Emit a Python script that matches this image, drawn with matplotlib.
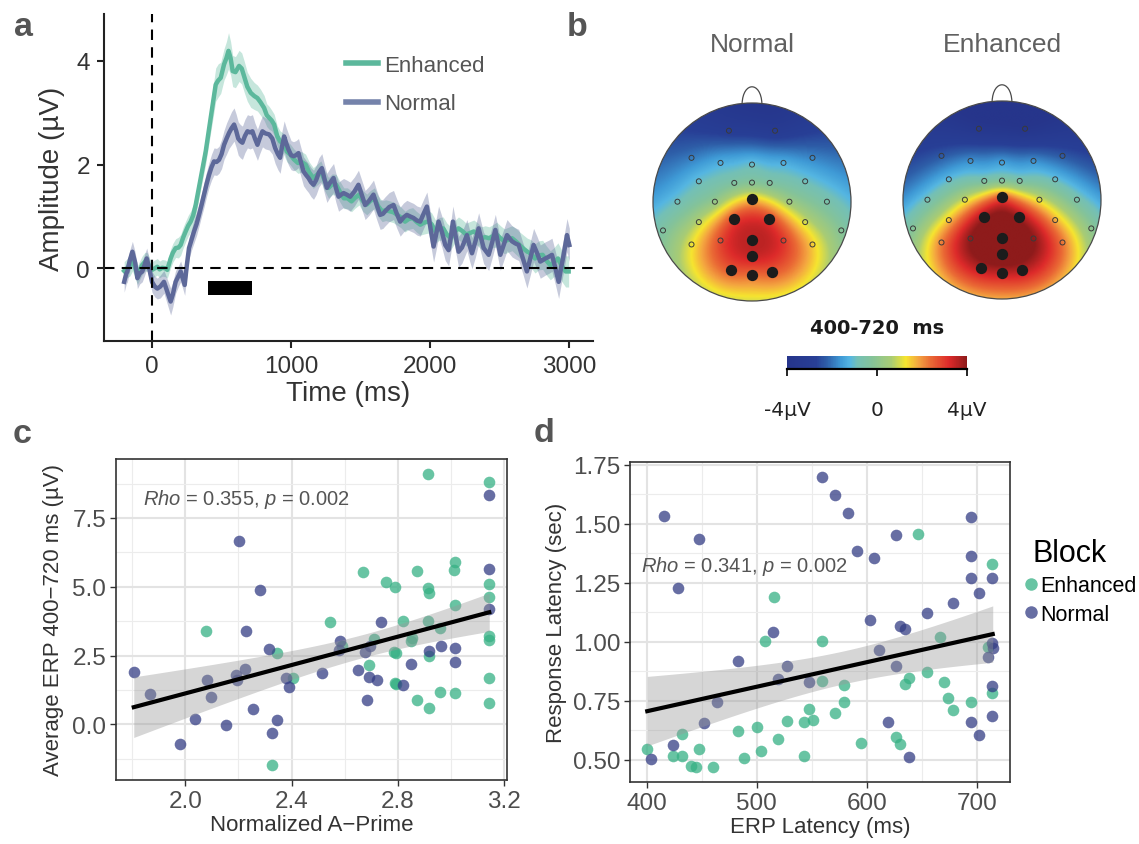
import numpy as np
import matplotlib
matplotlib.use("Agg")
import matplotlib.pyplot as plt
from matplotlib.colors import LinearSegmentedColormap, Normalize
from matplotlib.cm import ScalarMappable
from matplotlib.patches import Circle, PathPatch, Rectangle
from matplotlib.path import Path
from matplotlib.lines import Line2D
from matplotlib.ticker import FormatStrFormatter

plt.rcParams['font.family'] = ['Liberation Sans', 'DejaVu Sans']
plt.rcParams['mathtext.fontset'] = 'custom'
plt.rcParams['mathtext.rm'] = 'Liberation Sans'
plt.rcParams['mathtext.it'] = 'Liberation Sans:italic'

W, H = 1139, 845

# ---------------- ERP grand averages (panel a) ----------------
enh_t = [-200, -180, -160, -140, -120, -105, -85, -70, -50, -34,
         -15, 0, 20, 38, 55, 74, 95, 110, 134, 150,
         170, 190, 206, 225, 242, 260, 278, 296, 314, 332,
         350, 368, 386, 404, 422, 440, 458, 476, 494, 518,
         535, 550, 565, 580, 600, 626, 645, 662, 685, 710,
         735, 758, 780, 806, 825, 842, 860, 878, 900, 920,
         945, 970, 995, 1020, 1049, 1075, 1104, 1130, 1159, 1185,
         1214, 1240, 1269, 1295, 1324, 1350, 1379, 1405, 1434, 1460,
         1489, 1515, 1544, 1570, 1599, 1625, 1654, 1680, 1709, 1735,
         1764, 1790, 1819, 1845, 1874, 1900, 1929, 1955, 1984, 2010,
         2038, 2065, 2093, 2120, 2148, 2175, 2203, 2230, 2258, 2285,
         2313, 2340, 2368, 2395, 2423, 2450, 2478, 2505, 2533, 2560,
         2588, 2615, 2643, 2670, 2698, 2725, 2753, 2780, 2808, 2835,
         2863, 2890, 2918, 2945, 2973, 2995]
enh_v = [-0.05, 0.00, 0.05, 0.15, 0.00, -0.13, -0.02, 0.06, 0.13, 0.12,
         0.02, -0.03, 0.00, 0.03, -0.02, 0.01, 0.00, -0.03, 0.19, 0.30,
         0.39, 0.40, 0.45, 0.60, 0.71, 0.82, 0.90, 1.02, 1.22, 1.48,
         1.74, 2.00, 2.25, 2.58, 2.90, 3.22, 3.54, 3.62, 3.67, 3.93,
         4.05, 4.19, 4.05, 3.80, 3.78, 3.90, 3.85, 3.70, 3.50, 3.38,
         3.32, 3.28, 3.20, 3.09, 2.95, 2.90, 2.85, 2.77, 2.55, 2.45,
         2.40, 2.25, 2.19, 2.10, 2.03, 2.05, 2.00, 1.85, 1.74, 1.80,
         1.87, 1.70, 1.55, 1.62, 1.61, 1.48, 1.35, 1.35, 1.29, 1.36,
         1.42, 1.30, 1.23, 1.30, 1.35, 1.20, 1.10, 1.12, 1.10, 1.08,
         1.03, 0.98, 0.90, 0.95, 0.97, 0.90, 0.84, 0.88, 0.90, 0.85,
         0.71, 0.76, 0.77, 0.65, 0.58, 0.70, 0.77, 0.72, 0.65, 0.68,
         0.71, 0.66, 0.58, 0.60, 0.58, 0.62, 0.65, 0.58, 0.52, 0.55,
         0.58, 0.52, 0.45, 0.38, 0.32, 0.28, 0.19, 0.25, 0.26, 0.15,
         0.06, 0.12, 0.19, 0.05, -0.06, -0.06]
enh_se = [.18, .18, .20, .20, .20, .18, .18, .18, .18, .18,
          .16, .16, .16, .16, .16, .16, .16, .16, .18, .18,
          .18, .20, .20, .20, .20, .20, .20, .20, .22, .22,
          .22, .24, .24, .26, .28, .30, .32, .32, .30, .30,
          .32, .35, .32, .30, .30, .30, .30, .30, .28, .28,
          .26, .25, .25, .24, .22, .22, .20, .20, .20, .20,
          .20, .20, .20, .20, .20, .20, .20, .20, .20, .20,
          .20, .20, .20, .20, .20, .20, .20, .20, .20, .20,
          .20, .20, .20, .20, .20, .20, .20, .20, .20, .20,
          .20, .20, .20, .20, .20, .20, .20, .22, .22, .22,
          .22, .22, .22, .22, .22, .22, .22, .22, .22, .22,
          .22, .22, .22, .22, .22, .22, .24, .24, .24, .24,
          .24, .25, .25, .26, .26, .27, .28, .28, .28, .28,
          .28, .28, .30, .30, .30, .30]

norm_t = [-200, -185, -177, -160, -141, -120, -105, -88, -70, -55,
          -38, -20, 0, 20, 38, 60, 86, 110, 134, 150,
          170, 190, 206, 222, 235, 250, 266, 284, 302, 320,
          338, 356, 374, 392, 410, 428, 446, 464, 482, 500,
          518, 536, 554, 572, 590, 605, 620, 635, 650, 668,
          686, 705, 722, 740, 758, 776, 794, 815, 842, 865,
          885, 905, 921, 935, 950, 966, 981, 1000, 1017, 1035,
          1053, 1070, 1089, 1107, 1125, 1143, 1161, 1180, 1200, 1221,
          1240, 1257, 1280, 1305, 1322, 1341, 1360, 1377, 1400, 1425,
          1455, 1484, 1510, 1532, 1560, 1592, 1615, 1640, 1660, 1676,
          1705, 1736, 1760, 1784, 1808, 1832, 1855, 1880, 1905, 1928,
          1952, 1976, 2000, 2024, 2042, 2060, 2084, 2108, 2132, 2148,
          2163, 2184, 2204, 2228, 2246, 2264, 2282, 2300, 2325, 2348,
          2366, 2384, 2420, 2445, 2468, 2486, 2504, 2528, 2552, 2570,
          2588, 2612, 2636, 2665, 2695, 2720, 2743, 2767, 2791, 2810,
          2827, 2850, 2875, 2900, 2923, 2940, 2959, 2983, 3000]
norm_v = [-0.26, -0.10, -0.06, 0.15, 0.32, 0.10, -0.19, -0.10, -0.06, 0.05,
          0.19, 0.00, -0.26, -0.35, -0.39, -0.35, -0.26, -0.45, -0.64, -0.50,
          -0.26, -0.15, -0.06, -0.20, -0.32, 0.05, 0.39, 0.55, 0.71, 0.85,
          1.03, 1.22, 1.42, 1.62, 1.80, 1.95, 2.06, 2.05, 2.09, 2.20,
          2.38, 2.50, 2.61, 2.70, 2.77, 2.65, 2.50, 2.45, 2.42, 2.55,
          2.64, 2.62, 2.64, 2.50, 2.38, 2.52, 2.64, 2.60, 2.58, 2.50,
          2.32, 2.20, 2.13, 2.35, 2.54, 2.40, 2.29, 2.18, 2.16, 2.18,
          2.22, 2.05, 1.87, 1.80, 1.74, 1.66, 1.61, 1.70, 1.85, 1.93,
          1.72, 1.55, 1.65, 1.74, 1.55, 1.38, 1.42, 1.45, 1.42, 1.38,
          1.48, 1.61, 1.40, 1.22, 1.30, 1.42, 1.22, 1.03, 1.05, 1.10,
          1.18, 1.22, 1.05, 0.90, 0.98, 1.03, 1.00, 0.97, 0.92, 0.90,
          1.05, 1.19, 0.80, 0.42, 0.65, 0.90, 0.70, 0.45, 0.35, 0.60,
          0.90, 0.60, 0.32, 0.40, 0.52, 0.64, 0.45, 0.29, 0.52, 0.77,
          0.58, 0.39, 0.26, 0.50, 0.74, 0.50, 0.26, 0.45, 0.64, 0.58,
          0.52, 0.48, 0.45, 0.20, -0.06, 0.20, 0.45, 0.30, 0.13, 0.16,
          0.19, 0.22, 0.26, 0.00, -0.26, 0.00, 0.26, 0.64, 0.45]
norm_se = [.20, .20, .20, .20, .20, .20, .20, .20, .20, .20,
           .20, .20, .20, .20, .20, .22, .22, .24, .26, .24,
           .22, .20, .20, .20, .20, .20, .20, .20, .22, .22,
           .22, .22, .24, .24, .24, .25, .26, .26, .26, .28,
           .28, .30, .30, .32, .32, .32, .32, .32, .32, .32,
           .32, .32, .32, .30, .30, .30, .30, .30, .30, .30,
           .30, .30, .30, .30, .30, .30, .30, .28, .28, .28,
           .28, .28, .28, .28, .28, .28, .28, .28, .28, .28,
           .28, .28, .28, .28, .28, .28, .28, .28, .28, .28,
           .28, .28, .28, .28, .28, .28, .28, .28, .28, .28,
           .28, .28, .28, .28, .28, .28, .28, .28, .28, .28,
           .28, .28, .30, .30, .30, .30, .30, .30, .30, .30,
           .30, .30, .30, .30, .30, .30, .30, .30, .30, .30,
           .30, .30, .30, .30, .30, .30, .30, .30, .30, .30,
           .30, .30, .30, .30, .32, .32, .32, .32, .32, .32,
           .32, .32, .32, .32, .32, .32, .32, .32, .32]

erp_window = (400, 720)

# ---------------- scalp maps (panel b), 32 channels ----------------
elec_x = [-0.233, 0.233,
          -0.611, -0.318, 0.0, 0.318, 0.611,
          -0.537, -0.179, 0.0, 0.179, 0.537,
          -0.753, -0.375, 0.0, 0.378, 0.757,
          -0.899, -0.537, -0.179, 0.169, 0.537, 0.902,
          -0.611, -0.318, 0.0, 0.318, 0.611,
          0.0,
          -0.216, 0.0, 0.206]
elec_y = [0.720, 0.720,
          0.446, 0.395, 0.378, 0.395, 0.446,
          0.209, 0.193, 0.196, 0.193, 0.209,
          0.003, 0.003, 0.034, 0.003, 0.003,
          -0.287, -0.203, -0.169, -0.169, -0.203, -0.287,
          -0.429, -0.389, -0.385, -0.389, -0.429,
          -0.547,
          -0.686, -0.733, -0.703]
elec_sig = [0, 0,
            0, 0, 0, 0, 0,
            0, 0, 0, 0, 0,
            0, 0, 1, 0, 0,
            0, 0, 1, 1, 0, 0,
            0, 0, 1, 0, 0,
            1,
            1, 1, 1]
amp_normal = [-2.9, -3.1,
              -1.9, -1.3, -1.0, -1.3, -1.8,
              -1.0, -0.4, -0.2, -0.4, -0.9,
              -0.9, 0.2, 1.5, 0.4, -0.6,
              -0.4, 0.8, 2.8, 2.9, 1.0, -0.2,
              1.2, 2.8, 3.5, 3.0, 1.5,
              3.4,
              2.6, 2.4, 2.6]
amp_enhanced = [-3.6, -3.8,
                -2.3, -1.7, -1.5, -1.7, -2.3,
                -1.1, -0.5, -0.3, -0.5, -1.0,
                -0.8, 1.0, 2.5, 1.1, -0.6,
                -0.2, 1.6, 3.8, 3.8, 1.8, 0.0,
                2.2, 4.0, 4.6, 4.0, 2.3,
                4.6,
                3.6, 3.5, 3.6]

# ---------------- per-subject scatter (panel c) ----------------
c_norm_x = [1.806, 1.868, 1.981, 2.038, 2.080, 2.098, 2.153, 2.191, 2.196, 2.201,
            2.223, 2.229, 2.253, 2.283, 2.314, 2.328, 2.345, 2.378, 2.390, 2.513,
            2.584, 2.579, 2.651, 2.678, 2.684, 2.690, 2.694, 2.721, 2.738, 2.819,
            2.851, 2.919, 2.961, 3.015, 3.015, 3.144, 3.144, 3.144]
c_norm_y = [1.91, 1.10, -0.72, 0.19, 1.63, 0.98, -0.04, 1.80, 1.62, 6.67,
            2.00, 3.38, 0.56, 4.89, 2.74, -0.30, 0.17, 1.68, 1.34, 1.86,
            3.02, 2.69, 1.98, 2.62, 0.87, 1.71, 2.84, 1.62, 3.72, 1.44,
            2.19, 2.68, 2.85, 2.79, 2.26, 8.32, 5.66, 4.19]
c_enh_x = [2.079, 2.345, 2.405, 2.328, 2.543, 2.590, 2.669, 2.690, 2.711, 2.754,
           2.790, 2.784, 2.794, 2.788, 2.794, 2.819, 2.849, 2.853, 2.871, 2.874,
           2.913, 2.915, 2.919, 2.915, 2.918, 2.918, 2.959, 2.959, 3.015, 3.011,
           3.015, 3.016, 3.144, 3.144, 3.144, 3.144, 3.144, 3.144, 3.144]
c_enh_y = [3.38, 2.60, 1.70, -1.49, 3.72, 2.84, 5.52, 2.17, 3.10, 5.16,
           4.99, 2.62, 2.60, 1.50, 1.47, 3.77, 3.04, 3.14, 0.87, 5.58,
           9.11, 4.94, 4.77, 3.77, 2.50, 0.59, 3.49, 1.17, 5.91, 5.60,
           4.35, 1.15, 8.80, 5.10, 4.64, 3.22, 3.08, 1.70, 0.77]

# ---------------- per-subject scatter (panel d) ----------------
d_norm_x = [415.9, 447.9, 428.1, 424.1, 403.6, 451.9, 463.8, 483.2, 515.0, 519.3,
            527.2, 547.7, 559.6, 571.2, 583.1, 591.0, 602.9, 606.5, 611.2, 619.1,
            626.7, 626.7, 630.3, 634.6, 638.9, 654.4, 678.6, 694.4, 694.4, 694.4,
            694.4, 702.3, 702.3, 713.9, 713.9, 714.6, 710.3, 713.9, 713.9]
d_norm_y = [1.532, 1.434, 1.230, 0.563, 0.504, 0.655, 0.747, 0.920, 1.041, 0.841,
            0.897, 0.831, 1.700, 1.622, 1.544, 1.385, 1.092, 1.353, 0.965, 0.659,
            1.454, 0.897, 1.067, 1.054, 0.513, 1.120, 1.165, 1.529, 1.362, 1.272,
            0.659, 1.205, 0.606, 1.271, 0.996, 0.972, 0.935, 0.813, 0.687]
d_enh_x = [400.4, 423.8, 432.1, 432.1, 440.0, 444.3, 447.9, 459.8, 483.2, 488.3,
           499.8, 503.4, 507.4, 515.3, 519.3, 527.6, 542.7, 542.7, 547.7, 551.4,
           559.6, 559.6, 570.8, 579.5, 579.5, 595.0, 626.7, 630.6, 634.6, 638.9,
           646.5, 654.4, 666.7, 670.6, 674.2, 678.6, 694.4, 710.3, 713.9, 713.9]
d_enh_y = [0.545, 0.518, 0.518, 0.609, 0.475, 0.468, 0.545, 0.468, 0.624, 0.507,
           0.638, 0.539, 1.005, 1.188, 0.589, 0.666, 0.518, 0.662, 0.716, 0.669,
           1.005, 0.835, 0.697, 0.817, 0.747, 0.570, 0.599, 0.568, 0.821, 0.845,
           1.458, 0.871, 1.019, 0.828, 0.764, 0.710, 0.747, 0.980, 1.331, 0.785]

c_stats = "$\\mathit{Rho}$ = 0.355, $\\mathit{p}$ = 0.002"
d_stats = "$\\mathit{Rho}$ = 0.341, $\\mathit{p}$ = 0.002"

col_enh = '#36b084'
col_norm = '#343d85'
erp_enh = '#5cb89c'
erp_norm = '#5d6899'


def px_axes(left, top, right, bottom):
    return fig.add_axes([left / W, 1 - bottom / H, (right - left) / W, (bottom - top) / H])


def expand(vals_a, vals_b, frac=0.05):
    lo = min(min(vals_a), min(vals_b))
    hi = max(max(vals_a), max(vals_b))
    pad = (hi - lo) * frac
    return lo - pad, hi + pad


def biharmonic(xe, ye, ve, xq, yq):
    # Sandwell biharmonic spline, same kernel as griddata 'v4'
    def green(d):
        with np.errstate(divide='ignore', invalid='ignore'):
            g = d ** 2 * (np.log(d) - 1)
        g[d == 0] = 0
        return g
    D = np.hypot(xe[:, None] - xe[None, :], ye[:, None] - ye[None, :])
    w = np.linalg.solve(green(D), ve)
    Dq = np.hypot(xq.ravel()[:, None] - xe[None, :], yq.ravel()[:, None] - ye[None, :])
    return (green(Dq) @ w).reshape(xq.shape)


topo_cmap = LinearSegmentedColormap.from_list('topo', [
    (0.00, '#26358b'), (0.16, '#283f96'), (0.22, '#2e5ea8'), (0.30, '#3f9ad6'),
    (0.35, '#55b6e2'), (0.39, '#74c0b6'), (0.47, '#84c39a'), (0.58, '#a9cc74'),
    (0.66, '#f6e52f'), (0.73, '#f4a640'), (0.80, '#ea6a35'), (0.90, '#dd2a2a'),
    (1.00, '#8e1b1b')])

fig = plt.figure(figsize=(W / 100, H / 100), dpi=100)

# ---------------- panel a ----------------
ax = px_axes(104, 15, 593, 342)
for t, v, se, c in [(enh_t, enh_v, enh_se, erp_enh), (norm_t, norm_v, norm_se, erp_norm)]:
    t = np.array(t); v = np.array(v); se = np.array(se)
    ax.fill_between(t, v - se, v + se, color=c, alpha=0.35, lw=0)
    ax.plot(t, v, color=c, lw=3.2, solid_joinstyle='round')
ax.axvline(0, color='black', lw=1.5, dashes=(5, 3.5))
ax.axhline(0, color='black', lw=1.5, dashes=(5, 3.5))
ax.add_patch(Rectangle((erp_window[0], -0.52), erp_window[1] - erp_window[0], 0.27,
                       color='black', lw=0))
ax.set_xlim(-345, 3170)
ax.set_ylim(-1.4, 4.9)
ax.set_xticks([0, 1000, 2000, 3000])
ax.set_yticks([0, 2, 4])
for s in ['top', 'right']:
    ax.spines[s].set_visible(False)
for s in ['left', 'bottom']:
    ax.spines[s].set_linewidth(1.5)
    ax.spines[s].set_color('#222222')
ax.tick_params(length=5, width=1.5, color='#222222', labelsize=17.5,
               labelcolor='#333333', pad=5)
ax.set_xlabel('Time (ms)', fontsize=20, color='#333333', labelpad=2)
ax.set_ylabel('Amplitude (µV)', fontsize=20, color='#333333', labelpad=8)
leg_a = ax.legend([Line2D([], [], color=erp_enh, lw=4), Line2D([], [], color='#7583ab', lw=4)],
                  ['Enhanced', 'Normal'], loc='upper left',
                  bbox_to_anchor=(346 / W, 1 - 56 / H), bbox_transform=fig.transFigure,
                  frameon=False, fontsize=16, handlelength=1.45, handletextpad=0.25,
                  labelspacing=0.78, borderpad=0, borderaxespad=0)
for txt in leg_a.get_texts():
    txt.set_color('#555555')

# ---------------- panel b ----------------
ex = np.array(elec_x); ey = np.array(elec_y); sig = np.array(elec_sig, dtype=bool)
gvec = np.linspace(-1, 1, 261)
gx, gy = np.meshgrid(gvec, gvec)
for (cx, cy), amps, title in [((752, 203), amp_normal, 'Normal'),
                              ((1002, 201), amp_enhanced, 'Enhanced')]:
    r = 99
    hx = px_axes(cx - 1.1 * r, cy - 1.25 * r, cx + 1.1 * r, cy + 1.1 * r)
    z = biharmonic(ex, ey, np.array(amps), gx, gy)
    im = hx.imshow(z, extent=(-1, 1, -1, 1), origin='lower', cmap=topo_cmap,
                   vmin=-4, vmax=4, interpolation='bilinear')
    head = Circle((0, 0), 1.0, fc='none', ec='#4a4a4a', lw=0.9, zorder=3)
    hx.add_patch(head)
    im.set_clip_path(head)
    nose = Path([(-0.1, 0.995), (-0.09, 1.22), (0.09, 1.22), (0.1, 0.995)],
                [Path.MOVETO, Path.CURVE4, Path.CURVE4, Path.CURVE4])
    hx.add_patch(PathPatch(nose, fc='none', ec='#4a4a4a', lw=0.9))
    hx.scatter(ex[~sig], ey[~sig], s=13, facecolors='none', edgecolors='#3a3a3a',
               linewidths=0.7, zorder=4)
    hx.scatter(ex[sig], ey[sig], s=66, color='#1c1c1c', lw=0, zorder=4)
    hx.set_xlim(-1.1, 1.1)
    hx.set_ylim(-1.1, 1.25)
    hx.axis('off')
    fig.text(cx / W, 1 - 45 / H, title, ha='center', va='center', fontsize=19,
             color='#606060')

fig.text(877 / W, 1 - 328 / H, f'{erp_window[0]}-{erp_window[1]}  ms', ha='center',
         va='center', fontsize=14, fontweight='bold', family='DejaVu Sans', color='#1a1a1a')
cax = px_axes(787, 357, 967, 370)
cb = fig.colorbar(ScalarMappable(norm=Normalize(-4, 4), cmap=topo_cmap), cax=cax,
                  orientation='horizontal', ticks=[-4, 0, 4])
cb.outline.set_visible(False)
cb.set_ticklabels(['-4µV', '0', '4µV'])
cax.plot([0, 1], [0, 0], transform=cax.transAxes, color='black', lw=1.6, clip_on=False)
cax.tick_params(length=5, width=1.2, color='black', pad=17, labelsize=14.5,
                labelcolor='#222222')
for lab in cax.get_xticklabels():
    lab.set_family('DejaVu Sans')

# ---------------- panels c and d ----------------
def scatter_panel(ax, xe, ye, xn, yn, xlim, ylim):
    ax.scatter(xe, ye, s=70, color=col_enh, alpha=0.75, lw=0, zorder=2)
    ax.scatter(xn, yn, s=70, color=col_norm, alpha=0.75, lw=0, zorder=2)
    x = np.array(xe + xn); y = np.array(ye + yn)
    n = len(x)
    slope, icpt = np.polyfit(x, y, 1)
    resid = y - (slope * x + icpt)
    s = np.sqrt(np.sum(resid ** 2) / (n - 2))
    xf = np.linspace(x.min(), x.max(), 100)
    yf = slope * xf + icpt
    band = 1.99 * s * np.sqrt(1 / n + (xf - x.mean()) ** 2 / np.sum((x - x.mean()) ** 2))
    ax.fill_between(xf, yf - band, yf + band, color='#999999', alpha=0.4, lw=0, zorder=3)
    ax.plot(xf, yf, color='black', lw=3, zorder=4)
    ax.set_xlim(*xlim)
    ax.set_ylim(*ylim)
    ax.set_axisbelow(True)
    ax.grid(which='major', color='#e3e3e3', lw=1.5)
    ax.grid(which='minor', color='#ececec', lw=0.8)
    for sp in ax.spines.values():
        sp.set_color('#333333')
        sp.set_linewidth(1.2)
    ax.tick_params(which='major', length=4, width=1, color='#333333', labelsize=17.5,
                   labelcolor='#4d4d4d', pad=3)
    ax.tick_params(which='minor', length=0)


axc = px_axes(116, 460, 507, 781)
scatter_panel(axc, c_enh_x, c_enh_y, c_norm_x, c_norm_y,
              expand(c_enh_x, c_norm_x), expand(c_enh_y, c_norm_y))
axc.set_xticks([2.0, 2.4, 2.8, 3.2])
axc.set_xticks([1.8, 2.2, 2.6, 3.0], minor=True)
axc.set_yticks([0.0, 2.5, 5.0, 7.5])
axc.set_yticks([-1.25, 1.25, 3.75, 6.25, 8.75], minor=True)
axc.xaxis.set_major_formatter(FormatStrFormatter('%.1f'))
axc.yaxis.set_major_formatter(FormatStrFormatter('%.1f'))
axc.set_xlabel('Normalized A\u2212Prime', fontsize=16, color='#333333', labelpad=2)
axc.set_ylabel('Average ERP 400\u2212720 ms (µV)', fontsize=16, color='#333333', labelpad=6)
axc.text(0.069, 0.878, c_stats, transform=axc.transAxes, fontsize=14.5, color='#555555',
         va='center', ha='left', zorder=5)

axd = px_axes(630, 463, 1010, 783)
scatter_panel(axd, d_enh_x, d_enh_y, d_norm_x, d_norm_y,
              expand(d_enh_x, d_norm_x), expand(d_enh_y, d_norm_y))
axd.set_xticks([400, 500, 600, 700])
axd.set_xticks([450, 550, 650], minor=True)
axd.set_yticks([0.5, 0.75, 1.0, 1.25, 1.5, 1.75])
axd.set_yticks([0.625, 0.875, 1.125, 1.375, 1.625], minor=True)
axd.yaxis.set_major_formatter(FormatStrFormatter('%.2f'))
axd.set_xlabel('ERP Latency (ms)', fontsize=16, color='#333333', labelpad=2)
axd.set_ylabel('Response Latency (sec)', fontsize=16, color='#333333', labelpad=4)
axd.text(0.029, 0.676, d_stats, transform=axd.transAxes, fontsize=14.5, color='#555555',
         va='center', ha='left', zorder=5)

leg = fig.legend([Line2D([], [], ls='', marker='o', ms=9, color=col_enh, alpha=0.75, mew=0),
                  Line2D([], [], ls='', marker='o', ms=9, color=col_norm, alpha=0.75, mew=0)],
                 ['Enhanced', 'Normal'], loc='upper left',
                 bbox_to_anchor=(1014 / W, 1 - 528 / H), frameon=False, title='Block',
                 title_fontsize=22, fontsize=15.5, handlelength=0.6, handletextpad=0.12,
                 labelspacing=0.35, borderpad=0, alignment='left')
leg.get_title().set_position((8, 0))

# panel letters
for letter, x, y in [('a', 14, 36), ('b', 567, 36), ('c', 13, 443), ('d', 534, 442)]:
    fig.text(x / W, 1 - y / H, letter, fontsize=24.5, fontweight='bold', color='#555555',
             ha='left', va='baseline')

fig.savefig('out.png', dpi=100)
